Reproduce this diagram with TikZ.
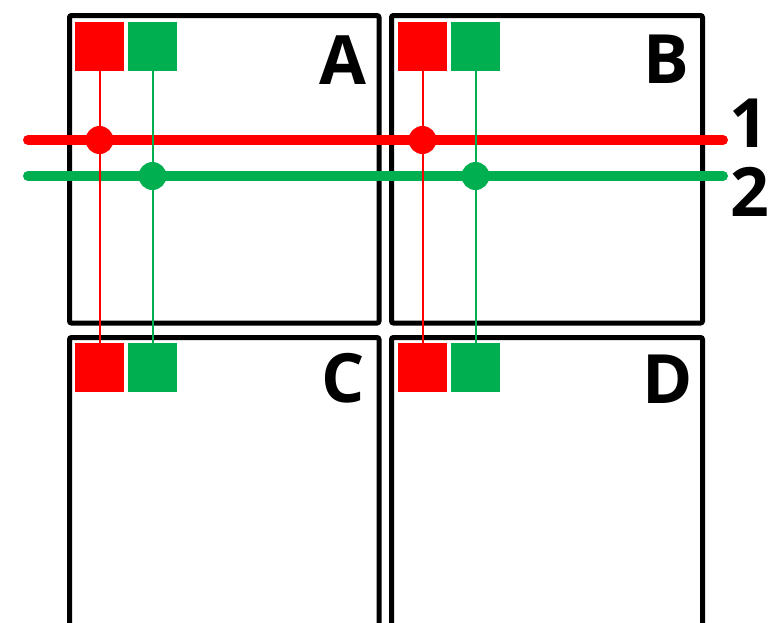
\documentclass[tikz,border=0pt]{standalone}
\usepackage{fontspec}
\setmainfont{Open Sans}
\definecolor{myred}{HTML}{FF0000}
\definecolor{mygreen}{HTML}{00B050}
\tikzset{
  panel/.style={draw=black, line width=5pt, rounded corners=2pt},
  sq/.style={minimum size=49pt, inner sep=0pt, outer sep=0pt, draw=none},
  dotn/.style={circle, minimum size=28pt, inner sep=0pt, draw=none},
  hline/.style={line width=10pt, line cap=round},
  vline/.style={line width=2pt},
  lab/.style={font=\bfseries\fontsize{68}{68}\selectfont, inner sep=0pt, anchor=base east}
}
\begin{document}
\begin{tikzpicture}[x=1pt,y=-1pt]
\clip (0,0) rectangle (770,622);
\fill[white] (0,0) rectangle (770,622);
% panels
\draw[panel] (69.5,15.5) rectangle (379,323);
\draw[panel] (391.5,15.5) rectangle (702.5,323);
\draw[panel] (69.5,337.5) rectangle (379,720);
\draw[panel] (391.5,337.5) rectangle (702.5,720);
% labels
\node[lab] (lA) at (367,84) {A};
\node[lab] (lB) at (689,83) {B};
\node[lab] (lC) at (365,402) {C};
\node[lab] (lD) at (693,403) {D};
\node[lab] (l1) at (769,147) {1};
\node[lab] (l2) at (770,216) {2};
% bus lines
\coordinate (h1l) at (28,140);
\coordinate (h1r) at (723,140);
\coordinate (h2l) at (28,176);
\coordinate (h2r) at (723,176);
\draw[hline, myred] (h1l) -- (h1r);
\draw[hline, mygreen] (h2l) -- (h2r);
% squares
\node[sq, fill=myred] (Ar) at (99.5,46.5) {};
\node[sq, fill=mygreen] (Ag) at (152.5,46.5) {};
\node[sq, fill=myred] (Br) at (422.5,46.5) {};
\node[sq, fill=mygreen] (Bg) at (475.5,46.5) {};
\node[sq, fill=myred] (Cr) at (99.5,367.5) {};
\node[sq, fill=mygreen] (Cg) at (152.5,367.5) {};
\node[sq, fill=myred] (Dr) at (422.5,367.5) {};
\node[sq, fill=mygreen] (Dg) at (475.5,367.5) {};
% vertical links
\draw[vline, myred] (Ar.south) -- (Cr.north);
\draw[vline, mygreen] (Ag.south) -- (Cg.north);
\draw[vline, myred] (Br.south) -- (Dr.north);
\draw[vline, mygreen] (Bg.south) -- (Dg.north);
% junction dots
\node[dotn, fill=myred] (jA1) at (99.5,140) {};
\node[dotn, fill=mygreen] (jA2) at (152.5,176) {};
\node[dotn, fill=myred] (jB1) at (422.5,140) {};
\node[dotn, fill=mygreen] (jB2) at (475.5,176) {};
\end{tikzpicture}
\end{document}
